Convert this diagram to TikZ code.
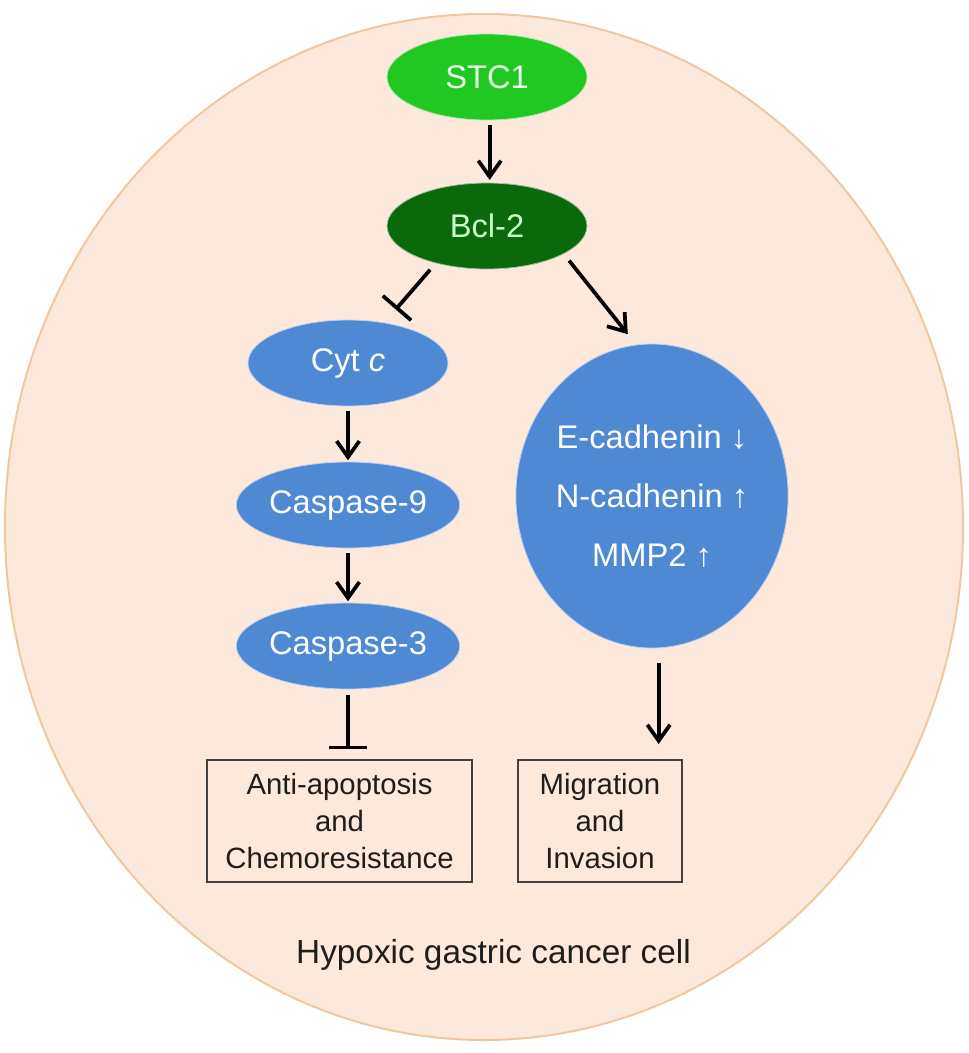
\documentclass[tikz,border=0pt]{standalone}
\usepackage{fontspec}
\setmainfont{Liberation Sans}
\usetikzlibrary{shapes.geometric,arrows.meta}
\definecolor{peach}{RGB}{253,233,219}
\definecolor{peachline}{RGB}{240,200,160}
\definecolor{brightgreen}{RGB}{33,200,33}
\definecolor{darkgreen}{RGB}{10,105,10}
\definecolor{bluefill}{RGB}{79,137,212}
\definecolor{boxtext}{RGB}{30,30,30}
\begin{document}
\begin{tikzpicture}[x=0.75pt,y=-0.75pt,
  cellshape/.style={ellipse,fill=peach,draw=peachline,line width=1.5pt,inner sep=0pt,
    minimum width=718.5pt,minimum height=769.5pt},
  oval/.style={ellipse,inner sep=0pt,minimum width=150pt,minimum height=64.5pt,
    draw=white!60!#1,line width=0.6pt,fill=#1,text=white,
    font=\fontsize{24.5}{28}\selectfont},
  resultbox/.style={rectangle,draw=black!75,line width=2pt,fill=peach,inner sep=0pt,
    minimum height=91.5pt,align=center,text=boxtext,
    font=\fontsize{22}{28}\selectfont},
  arr/.style={line width=2.8pt,-{Straight Barb[length=12pt,width=17pt]}},
  inh/.style={line width=2.8pt,-{Bar[width=28pt]}}
]
\useasboundingbox (0,0) rectangle (969,1053);
\node[cellshape] (cell) at (484,527) {};

\node[oval=brightgreen,text=green!8!white] (stc1) at (487,77) {STC1};
\node[oval=darkgreen,text=green!20!white] (bcl) at (487,226) {Bcl-2};
\node[oval=bluefill] (cyt) at (348,363) {Cyt \textit{c}};
\node[oval=bluefill] (c9) at (348,505) {Caspase-9};
\node[oval=bluefill] (c3) at (348,646) {Caspase-3};
\node[oval=bluefill,minimum width=190.5pt,minimum height=228pt,align=center,
  font=\fontsize{24.5}{44}\selectfont] (emt) at (652,496)
  {E-cadhenin ↓\\N-cadhenin ↑\\MMP2 ↑};

\node[resultbox,minimum width=198.75pt] (lbox) at (339.5,821)
  {Anti-apoptosis\\and\\Chemoresistance};
\node[resultbox,minimum width=123pt] (rbox) at (600,821)
  {Migration\\and\\Invasion};

\node[anchor=base,text=boxtext,font=\fontsize{25}{30}\selectfont] (lbl) at (493.5,963)
  {Hypoxic gastric cancer cell};

\draw[arr,shorten <=3.5pt,shorten >=2pt] ([xshift=2pt]stc1.south) -- ([xshift=2pt]bcl.north);
\draw[inh,shorten <=6.4pt,shorten >=13pt] (bcl.216) -- (cyt.48);
\draw[arr,shorten <=6.4pt,shorten >=10pt] (bcl.340) -- (emt.96);
\draw[arr,shorten <=3.5pt,shorten >=1pt] (cyt.south) -- (c9.north);
\draw[arr,shorten <=3.5pt,shorten >=1pt] (c9.south) -- (c3.north);
\draw[inh,shorten <=4.5pt,shorten >=7pt] (c3.south) -- (c3.south |- lbox.north);
\draw[arr,shorten <=11pt,shorten >=11pt] ([xshift=5pt]emt.south) -- ([xshift=5pt]emt.south |- rbox.north);
\end{tikzpicture}
\end{document}
